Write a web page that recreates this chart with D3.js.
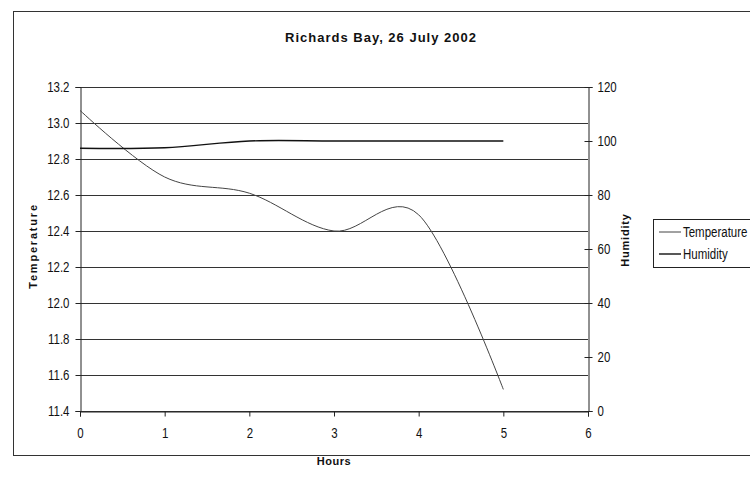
<!DOCTYPE html>
<html>
<head>
<meta charset="utf-8">
<script src="https://cdn.jsdelivr.net/npm/d3@7"></script>
<style>
  html, body { margin: 0; padding: 0; background: #fff; }
  svg text { font-family: "Liberation Sans", Arial, sans-serif; fill: #111; }
</style>
</head>
<body>
<svg id="chart" width="750" height="483"></svg>
<script>
// ---- data ----
const hours = [0, 1, 2, 3, 4, 5];
const temperature = [13.07, 12.70, 12.61, 12.40, 12.49, 11.52];
const humidity = [97.3, 97.5, 100, 100, 100, 100];
const xTicks = [0, 1, 2, 3, 4, 5, 6];
const tempTicks = [11.4, 11.6, 11.8, 12.0, 12.2, 12.4, 12.6, 12.8, 13.0, 13.2];
const humTicks = [0, 20, 40, 60, 80, 100, 120];
const seriesNames = ["Temperature", "Humidity"];
const titleText = "Richards Bay, 26 July 2002";

(function () {
const svg = d3.select("#chart");
const pLeft = 80, pRight = 588, pTop = 87, pBottom = 411;
const SX = 0.82; // condensed look of the original's axis font

const x = d3.scaleLinear().domain([0, 6]).range([pLeft, pRight]);
const yT = d3.scaleLinear().domain([11.4, 13.2]).range([pBottom, pTop]);
const yH = d3.scaleLinear().domain([0, 120]).range([pBottom, pTop]);

// outer frame
svg.append("rect").attr("x", 13.5).attr("y", 11.5).attr("width", 740).attr("height", 444)
  .attr("fill", "none").attr("stroke", "#333").attr("stroke-width", 1);

// title
svg.append("text").attr("x", 381).attr("y", 42).attr("text-anchor", "middle")
  .style("font-size", "13px").style("font-weight", "bold").style("letter-spacing", "1px")
  .text(titleText);

// gridlines
svg.append("g").selectAll("line").data(tempTicks).join("line")
  .attr("x1", pLeft).attr("x2", pRight)
  .attr("y1", d => Math.round(yT(d)) + 0.5).attr("y2", d => Math.round(yT(d)) + 0.5)
  .attr("stroke", "#333").attr("stroke-width", 1);

// left axis
const gL = svg.append("g").attr("transform", `translate(${pLeft + 0.5},0)`)
  .call(d3.axisLeft(yT).tickValues(tempTicks).tickFormat(d3.format(".1f")).tickSize(5).tickPadding(6));
// right axis
const gR = svg.append("g").attr("transform", `translate(${pRight + 0.5},0)`)
  .call(d3.axisRight(yH).tickValues(humTicks).tickFormat(d3.format("d")).tickSize(4).tickPadding(5));
gR.selectAll(".tick line").attr("x1", -4);
// bottom axis
const gB = svg.append("g").attr("transform", `translate(0,${pBottom + 0.5})`)
  .call(d3.axisBottom(x).tickValues(xTicks).tickFormat(d3.format("d")).tickSize(5).tickPadding(12));

[gL, gR, gB].forEach(g => {
  g.select(".domain").attr("stroke", "#222");
  g.selectAll(".tick line").attr("stroke", "#222");
  g.selectAll(".tick text").each(function () {
    const t = d3.select(this);
    const x0 = +t.attr("x") || 0;
    t.attr("x", x0 / SX).attr("transform", `scale(${SX},1)`)
      .style("font-size", "14px").attr("fill", "#111");
  });
});

// lines
const lineT = d3.line().x((d, i) => x(hours[i])).y(d => yT(d)).curve(d3.curveCardinal.tension(0));
const lineH = d3.line().x((d, i) => x(hours[i])).y(d => yH(d)).curve(d3.curveCardinal.tension(0));

svg.append("path").datum(temperature).attr("d", lineT)
  .attr("fill", "none").attr("stroke", "#444").attr("stroke-width", 1);
svg.append("path").datum(humidity).attr("d", lineH)
  .attr("fill", "none").attr("stroke", "#111").attr("stroke-width", 1.4);

// axis titles
svg.append("text").attr("transform", "translate(37,246) rotate(-90)").attr("text-anchor", "middle")
  .style("font-size", "11px").style("font-weight", "bold").style("letter-spacing", "1.8px")
  .text("Temperature");
svg.append("text").attr("transform", "translate(629,240) rotate(-90)").attr("text-anchor", "middle")
  .style("font-size", "11px").style("font-weight", "bold").style("letter-spacing", "0.8px")
  .text("Humidity");
svg.append("text").attr("x", 334).attr("y", 465).attr("text-anchor", "middle")
  .style("font-size", "11px").style("font-weight", "bold").style("letter-spacing", "0.5px")
  .text("Hours");

// legend
const leg = svg.append("g");
leg.append("rect").attr("x", 653.5).attr("y", 219.5).attr("width", 110).attr("height", 48)
  .attr("fill", "#fff").attr("stroke", "#222").attr("stroke-width", 1);
const legStyles = [{ c: "#444", w: 1 }, { c: "#111", w: 1.4 }];
seriesNames.forEach((name, i) => {
  const yy = 232 + i * 22;
  leg.append("line").attr("x1", 659).attr("x2", 681).attr("y1", yy).attr("y2", yy)
    .attr("stroke", legStyles[i].c).attr("stroke-width", legStyles[i].w);
  leg.append("text").attr("x", 683 / SX).attr("y", yy + 5).attr("transform", `scale(${SX},1)`)
    .style("font-size", "14px").text(name);
});
})();
</script>
</body>
</html>
